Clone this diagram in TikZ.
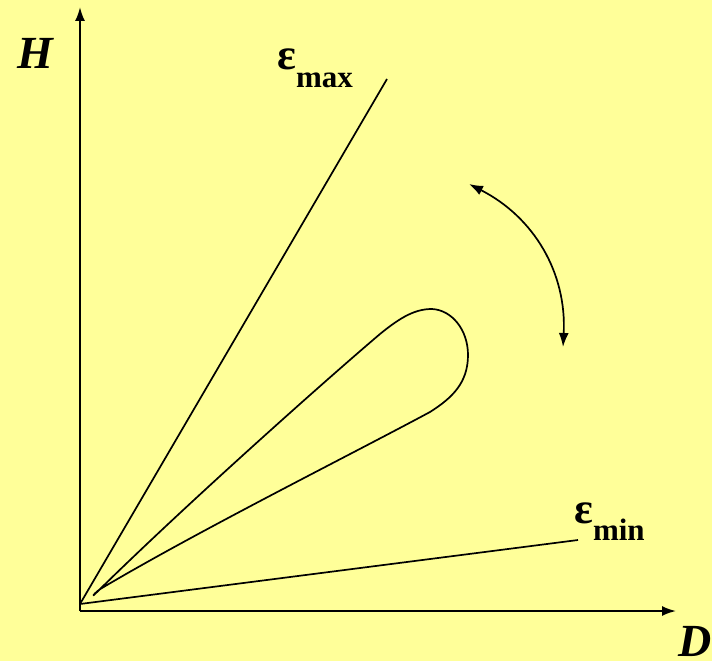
\documentclass[tikz,border=0pt]{standalone}
\usepackage{fontspec}
\setmainfont{Liberation Serif}
\usetikzlibrary{arrows.meta,positioning}
\definecolor{paper}{RGB}{255,255,153}
\begin{document}
\begin{tikzpicture}[x=1pt,y=-1pt,>={Latex[length=14pt,width=10pt]},
  axis/.style={line width=1.9pt},
  ray/.style={line width=1.7pt},
  axlabel/.style={inner sep=0pt,anchor=base west,font=\fontsize{46}{46}\selectfont\bfseries\itshape},
  eps/.style={inner sep=0pt,anchor=base west,font=\fontsize{44}{44}\selectfont\bfseries}]
\useasboundingbox[fill=paper] (0,0) rectangle (712,661);
\coordinate (O) at (80,611);
\coordinate (Htop) at (80,7);
\coordinate (Dend) at (676,611);
\coordinate (R) at (80,604);
\coordinate (Rmax) at (387,79);
\coordinate (Rmin) at (578,540);
\coordinate (a) at (469,184);
\coordinate (b) at (563,347);
% axes
\draw[axis,->] (O) -- (Htop);
\draw[axis,->] (O) -- (Dend);
\node[axlabel] (H) at (17,68) {H};
\node[axlabel] (D) at (678,656) {D};
% limits
\draw[ray] (R) -- (Rmax);
\draw[ray] (R) -- (Rmin);
\node[eps] (emax) at (277,70) {ε\raisebox{-18pt}{\fontsize{31}{31}\selectfont max}};
\node[eps] (emin) at (574,523) {ε\raisebox{-17pt}{\fontsize{31}{31}\selectfont min}};
% loop
\draw[ray,line join=round] (94,595) .. controls (180,510) and (320,385) .. (380,334)
  .. controls (402,316) and (416,309) .. (432,309)
  .. controls (452,310) and (468,330) .. (468,355)
  .. controls (468,383) and (452,398) .. (430,412)
  .. controls (350,455) and (200,530) .. (102,588)
  .. controls (95,592) and (92,597) .. (94,595);
\draw[ray,<->] (a) to[bend left=33] (b);
\end{tikzpicture}
\end{document}
